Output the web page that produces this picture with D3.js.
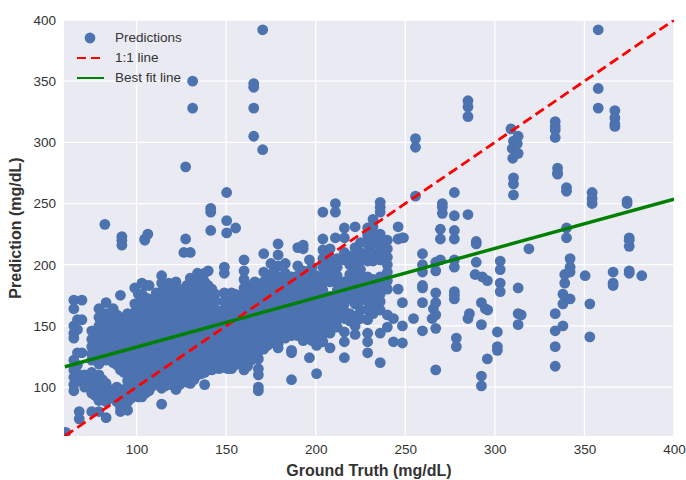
<!DOCTYPE html>
<html>
<head>
<meta charset="utf-8">
<script src="https://cdn.jsdelivr.net/npm/d3@7"></script>
<style>
    html, body { margin: 0; padding: 0; background: #fff; }
    svg { display: block; }
    text { font-family: "Liberation Sans", Arial, sans-serif; fill: #262626; }
</style>
</head>
<body>
<svg id="chart" width="686" height="480"></svg>
<script>
// --- 1. DATA ---
// ground truth values, one per column of dots
const truthValues = [60.5, 65, 67, 68, 69.5, 71, 75, 77, 79, 81, 83, 85, 87, 89, 91, 93, 95, 97, 99, 101, 103, 105, 107, 109, 111, 114, 116, 118, 120, 122, 124, 126, 128, 130, 132, 134, 136, 138, 140, 142, 144, 146, 149, 151, 153, 155, 157, 160, 162, 164, 166, 168, 171, 173, 175, 177, 179, 183, 186.5, 190, 193, 196.5, 198, 200.5, 204, 208, 211, 212, 216, 219, 222, 225, 229, 232, 236, 240, 243.4];
// predictions at each of those ground truth values
const predictionValues = [
    [63],
    [171, 164, 150, 144, 140, 122, 114, 108, 102, 97],
    [155, 147, 128, 118, 111, 105],
    [80, 74],
    [171, 155, 128],
    [110, 104, 100],
    [146, 139, 133, 127, 122, 112, 106, 100, 95, 80],
    [142, 135, 129, 124, 108, 102, 93],
    [164, 157, 150, 144, 137, 131, 125, 119, 110, 103, 96, 89, 80],
    [160, 140, 134, 128, 123, 106, 100, 93],
    [169, 160, 153, 146, 139, 133, 127, 122, 103, 97, 92, 88, 75],
    [150, 143, 137, 131, 125, 98, 93],
    [164, 156, 149, 142, 136, 130, 124, 120, 96, 91],
    [159, 147, 140, 134, 128, 122, 118, 100, 94, 88],
    [175, 157, 150, 144, 138, 132, 126, 120, 114, 98, 92, 84, 80],
    [155, 148, 136, 130, 124, 118, 112, 96, 89, 83],
    [160, 153, 147, 141, 135, 129, 123, 117, 111, 105, 100, 93, 88, 81],
    [150, 143, 138, 132, 126, 120, 114, 108, 102, 97, 91],
    [181, 168, 161, 155, 148, 142, 136, 130, 124, 118, 112, 106, 100, 94],
    [176, 158, 151, 145, 133, 127, 121, 115, 109, 103, 97, 92],
    [185, 176, 169, 162, 156, 150, 144, 138, 132, 126, 120, 114, 108, 102, 96, 92],
    [183, 173, 166, 154, 148, 142, 130, 124, 118, 112, 106, 100, 95],
    [183, 172, 165, 158, 152, 146, 140, 134, 128, 122, 116, 110, 104, 97],
    [169, 161, 155, 143, 137, 125, 119, 113, 107, 101],
    [177, 170, 163, 157, 151, 145, 139, 133, 127, 121, 115, 109, 103],
    [191, 185, 178, 171, 164, 158, 152, 146, 140, 134, 128, 122, 116, 110, 104, 99, 86],
    [181, 174, 167, 155, 149, 143, 137, 131, 125, 119, 113, 107, 101],
    [185, 176, 169, 162, 156, 150, 144, 138, 132, 126, 120, 114, 108, 102],
    [183, 172, 159, 153, 147, 141, 135, 129, 117, 111, 105],
    [186, 178, 171, 165, 159, 153, 147, 141, 135, 129, 123, 117, 111, 105, 98],
    [175, 168, 162, 156, 150, 144, 138, 132, 126, 120, 114, 108, 102],
    [180, 172, 166, 160, 154, 148, 142, 136, 130, 124, 118, 112, 106],
    [183, 176, 169, 163, 157, 151, 145, 139, 133, 127, 121, 115, 109, 104],
    [189, 180, 173, 167, 161, 155, 149, 143, 137, 131, 125, 119, 113, 107, 103],
    [187, 178, 172, 166, 160, 154, 148, 142, 136, 130, 124, 118, 112, 106],
    [193, 185, 176, 170, 164, 158, 152, 146, 140, 134, 128, 122, 116, 110],
    [188, 181, 174, 168, 162, 156, 150, 144, 138, 132, 126, 120, 114, 111],
    [193, 186, 179, 172, 166, 160, 154, 148, 142, 136, 130, 124, 118, 112, 102],
    [195, 183, 176, 170, 164, 158, 152, 146, 140, 134, 128, 122, 116],
    [180, 173, 167, 161, 155, 149, 143, 137, 131, 125, 119, 114],
    [176, 170, 158, 152, 146, 140, 134, 128, 122, 116],
    [162, 156, 150, 144, 138, 132, 126, 120, 115],
    [198, 193, 177, 170, 164, 158, 152, 146, 140, 134, 128, 122, 116],
    [175, 167, 161, 155, 149, 143, 137, 131, 125, 119, 115],
    [177, 170, 163, 157, 151, 145, 139, 133, 127, 121, 115],
    [176, 168, 160, 154, 148, 142, 136, 130, 124, 118],
    [175, 168, 162, 156, 150, 144, 138, 132, 126, 120],
    [204, 195, 188, 181, 174, 167, 161, 155, 149, 143, 137, 131, 125, 119, 114],
    [178, 171, 164, 158, 152, 146, 140, 134, 128, 122, 117],
    [183, 176, 170, 164, 158, 152, 146, 140, 134, 128, 122],
    [186, 180, 173, 167, 161, 155, 149, 143, 137, 131, 126],
    [184, 177, 171, 165, 159, 153, 147, 141, 135, 129, 123, 115, 110, 100, 97],
    [209, 194, 186, 179, 173, 167, 161, 155, 149, 143, 137, 131],
    [188, 181, 175, 169, 163, 157, 151, 145, 139, 134],
    [201, 192, 185, 178, 172, 166, 160, 154, 148, 142, 136],
    [196, 187, 180, 174, 168, 162, 156, 150, 144, 138],
    [217, 208, 199, 190, 183, 177, 171, 165, 159, 153, 147, 141, 135, 132],
    [201, 193, 186, 180, 174, 168, 162, 156, 150, 144, 140],
    [190, 183, 177, 171, 165, 159, 153, 147, 142, 130, 128, 106],
    [214, 199, 191, 184, 178, 172, 166, 160, 154, 148, 142],
    [216, 213, 195, 187, 181, 175, 169, 163, 157, 151, 145, 138],
    [204, 195, 188, 182, 176, 170, 164, 158, 152, 146, 140, 124],
    [198, 186, 180, 174, 168, 162, 156, 150, 144, 138],
    [191, 184, 178, 172, 166, 160, 154, 148, 142, 136, 134, 111],
    [243, 221, 212, 205, 198, 191, 185, 179, 173, 167, 161, 155, 149, 143, 137],
    [213, 206, 199, 192, 186, 174, 168, 162, 156, 150, 144, 132],
    [250, 243, 222],
    [205, 198, 191, 185, 179, 173, 167, 161, 155, 149],
    [230, 222, 210, 204, 186, 180, 174, 168, 162, 156, 145, 137, 124],
    [207, 200, 192, 185, 179, 172, 160, 154],
    [231, 214, 207, 200, 193, 186, 180, 174, 168, 158, 150, 143],
    [218, 210, 203, 196, 189, 183, 177, 171, 163, 156],
    [230, 224, 217, 210, 203, 190, 183, 176, 170, 163, 155, 144, 137, 128],
    [237, 231, 224, 217, 209, 203, 188, 181, 174, 167, 160],
    [251, 247, 243, 225, 218, 211, 204, 190, 183, 176, 170, 163, 144, 120],
    [220, 213, 206, 200, 194, 187, 180, 159, 149],
    [156, 137]
];
// lone dots above the cloud
const outlierTruth = [82.3, 91.8, 91.8, 91.8, 104.6, 104.6, 106.3, 127.4, 127.4, 126.4, 131.3, 131.3, 130, 141.4, 141.4, 141.4, 150.3, 150.3, 150.3, 155.3, 165.4, 165.4, 165.4, 165.4, 170.4, 170.4];
const outlierPrediction = [233, 223, 220, 216, 221, 220, 225, 280, 221, 210, 350, 328, 210, 246, 243, 228, 259, 236, 226, 230, 348, 345, 328, 305, 392, 294];
// sparse dots right of the cloud
const sparseTruth = [246, 246, 246, 248.4, 248.4, 248.4, 248.4, 249, 254.6, 255.7, 255.7, 255.7, 259.6, 259.6, 259.6, 259.6, 259.6, 259.6, 259.6, 265, 265.7, 267, 267, 267, 267, 267, 267, 267, 269.6, 269.6, 269.6, 270.7, 270.7, 270.7, 277.4, 277.4, 277.4, 277.4, 277.4, 277.4, 277.4, 277.4, 277.4, 278.5, 278.5, 285, 285, 285, 285, 285, 285.8, 289, 289.6, 289.6, 289.6, 292.5, 292.5, 292.5, 292.5, 293, 294.7, 295.8, 295.8, 296, 301.4, 301.4, 301.4, 303, 303, 303, 303, 309, 309.7, 310, 310.4, 310.4, 310.4, 310.4, 312.5, 313, 313, 313, 313, 313, 314.7, 319, 333.7, 333.7, 333.7, 333.7, 333.7, 333.7, 333.7, 333.7, 335, 335, 335, 338, 338, 338, 339, 339, 340, 340, 340, 340, 342, 342, 342, 342, 350.4, 353, 353, 354.3, 354.3, 354.3, 357.7, 357.7, 357.7, 366, 366, 366, 367, 367, 367, 367, 373.8, 373.8, 375, 375, 375, 375, 375, 382];
const sparsePrediction = [231, 221, 180, 222, 169, 150, 136, 222, 156, 303, 296, 256, 209, 200, 194, 183, 181, 169, 146, 156, 164, 202, 195, 177, 169, 159, 148, 114, 229, 221, 204, 250, 247, 242, 259, 240, 228, 221, 204, 198, 178, 175, 172, 140, 133, 334, 329, 321, 241, 156, 160, 192, 219, 217, 202, 169, 151, 109, 101, 190, 164, 187, 123, 163, 145, 133, 130, 203, 196, 185, 178, 311, 295, 287, 301, 271, 266, 257, 299, 305, 291, 181, 160, 151, 159, 213, 317, 313, 310, 304, 160, 146, 133, 117, 279, 275, 274, 176, 168, 150, 192, 185, 263, 260, 230, 222, 205, 198, 194, 172, 191, 168, 141, 259, 254, 250, 392, 344, 328, 194, 185, 183, 326, 320, 315, 313, 252, 250, 222, 215, 195, 193, 220, 191];

const xTicks = [100, 150, 200, 250, 300, 350, 400];
const yTicks = [100, 150, 200, 250, 300, 350, 400];
const identityLine = [60, 400];     // 1:1 line, same on both axes
const fitTruth = [60, 400];
const fitPrediction = [116.6, 253.6];
const legendLabels = ["Predictions", "1:1 line", "Best fit line"];

// flatten columns + lone dots into x/y pairs
const points = [];
truthValues.forEach((t, i) => predictionValues[i].forEach(p => points.push([t, p])));
outlierTruth.forEach((t, i) => points.push([t, outlierPrediction[i]]));
sparseTruth.forEach((t, i) => points.push([t, sparsePrediction[i]]));

// --- 2. SCALES ---
const svg = d3.select("#chart");
const margin = {top: 20, right: 12, bottom: 44, left: 64};
const iW = 686 - margin.left - margin.right;
const iH = 480 - margin.top - margin.bottom;

const x = d3.scaleLinear().domain([59.5, 400]).range([0, iW]);
const y = d3.scaleLinear().domain([60, 400]).range([iH, 0]);

const g = svg.append("g").attr("transform", `translate(${margin.left},${margin.top})`);

svg.append("defs").append("clipPath").attr("id", "plot-clip")
    .append("rect").attr("width", iW).attr("height", iH);

g.append("rect").attr("width", iW).attr("height", iH).attr("fill", "#EAEAF2");

// --- 3. GRID + AXES ---
g.append("g").selectAll("line").data(xTicks).join("line")
    .attr("x1", d => x(d)).attr("x2", d => x(d))
    .attr("y1", 0).attr("y2", iH)
    .attr("stroke", "#fff").attr("stroke-width", 1.3);
g.append("g").selectAll("line").data(yTicks).join("line")
    .attr("y1", d => y(d)).attr("y2", d => y(d))
    .attr("x1", 0).attr("x2", iW)
    .attr("stroke", "#fff").attr("stroke-width", 1.3);

const xAxis = g.append("g").attr("transform", `translate(0,${iH})`)
    .call(d3.axisBottom(x).tickValues(xTicks).tickSize(0).tickPadding(8));
const yAxis = g.append("g")
    .call(d3.axisLeft(y).tickValues(yTicks).tickSize(0).tickPadding(8));
xAxis.select(".domain").remove();
yAxis.select(".domain").remove();
xAxis.selectAll("text").style("font-size", "13.5px").style("fill", "#333");
yAxis.selectAll("text").style("font-size", "13.5px").style("fill", "#333");

svg.append("text").attr("x", 369).attr("y", 476)
    .attr("text-anchor", "middle")
    .style("font-size", "16px").style("font-weight", "bold").style("fill", "#333")
    .text("Ground Truth (mg/dL)");
svg.append("text").attr("transform", "translate(21,228) rotate(-90)")
    .attr("text-anchor", "middle")
    .style("font-size", "16px").style("font-weight", "bold").style("fill", "#333")
    .text("Prediction (mg/dL)");

// --- 4. MARKS ---
const plot = g.append("g").attr("clip-path", "url(#plot-clip)");

plot.selectAll("circle").data(points).join("circle")
    .attr("cx", d => x(d[0]))
    .attr("cy", d => y(d[1]))
    .attr("r", 5.4)
    .attr("fill", "#4C72B0");

plot.append("line")
    .attr("x1", x(identityLine[0])).attr("y1", y(identityLine[0]))
    .attr("x2", x(identityLine[1])).attr("y2", y(identityLine[1]))
    .attr("stroke", "red").attr("stroke-width", 2.8).attr("stroke-dasharray", "10,5");

plot.append("line")
    .attr("x1", x(fitTruth[0])).attr("y1", y(fitPrediction[0]))
    .attr("x2", x(fitTruth[1])).attr("y2", y(fitPrediction[1]))
    .attr("stroke", "green").attr("stroke-width", 3.4);

// --- 5. LEGEND ---
const legend = g.append("g");
const legendY = d => 18 + d * 20;
legend.append("circle").attr("cx", 26).attr("cy", legendY(0)).attr("r", 5.4).attr("fill", "#4C72B0");
legend.append("line")
    .attr("x1", 13).attr("x2", 40).attr("y1", legendY(1)).attr("y2", legendY(1))
    .attr("stroke", "red").attr("stroke-width", 2).attr("stroke-dasharray", "9,5");
legend.append("line")
    .attr("x1", 13).attr("x2", 40).attr("y1", legendY(2)).attr("y2", legendY(2))
    .attr("stroke", "green").attr("stroke-width", 2);
legend.selectAll("text").data(legendLabels).join("text")
    .attr("x", 51)
    .attr("y", (d, i) => legendY(i))
    .attr("dy", "0.3em")
    .style("font-size", "13.5px")
    .style("fill", "#333")
    .text(d => d);
</script>
</body>
</html>
